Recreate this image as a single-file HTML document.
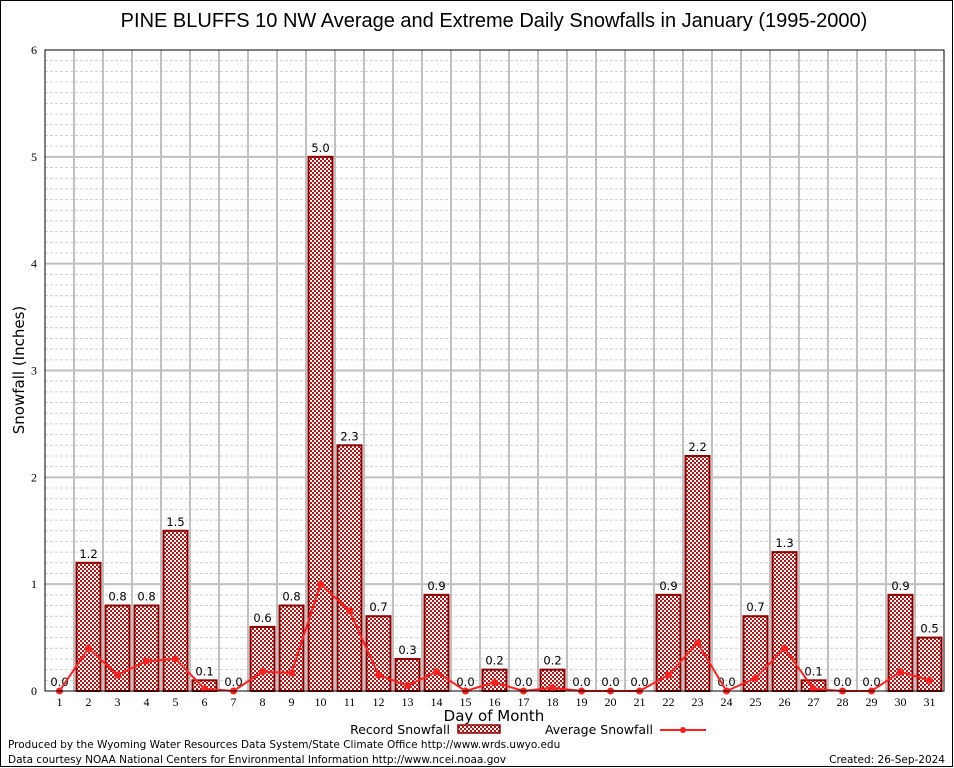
<!DOCTYPE html>
<html><head><meta charset="utf-8"><style>
body{margin:0;background:#fff;font-family:"DejaVu Sans",sans-serif}
svg{display:block}
</style></head><body>
<svg id="c" width="954" height="768" xmlns="http://www.w3.org/2000/svg">
<defs><pattern id="chk" width="4" height="4" patternUnits="userSpaceOnUse">
<rect width="4" height="4" fill="#fff"/><rect width="2" height="2" fill="#c01010"/><rect x="2" y="2" width="2" height="2" fill="#c01010"/></pattern></defs>
<rect x="0.5" y="0.5" width="952" height="766" fill="#fff" stroke="#000"/>
<text x="494" y="27" font-size="20" font-family="Liberation Sans" text-anchor="middle">PINE BLUFFS 10 NW Average and Extreme Daily Snowfalls in January (1995-2000)</text>
<g id="grid"></g><g id="bars"></g><g id="line"></g><g id="axes"></g>
<text transform="translate(24,370) rotate(-90)" font-size="15" text-anchor="middle">Snowfall (Inches)</text>
<text x="494" y="721" font-size="15" text-anchor="middle">Day of Month</text>
<g><text x="450" y="734" font-size="12.5" text-anchor="end">Record Snowfall</text><rect x="458" y="725" width="42" height="8" fill="url(#chk)" stroke="#8b0000" stroke-width="1.5"/></g>
<g><text x="653" y="734" font-size="12.5" text-anchor="end">Average Snowfall</text><line x1="660" y1="730" x2="706" y2="730" stroke="#ff2020" stroke-width="2"/><circle cx="683" cy="730" r="3" fill="#ff2020"/></g>
<text x="8" y="748" font-size="10.5">Produced by the Wyoming Water Resources Data System/State Climate Office http://www.wrds.uwyo.edu</text>
<text x="8" y="763" font-size="10.5">Data courtesy NOAA National Centers for Environmental Information http://www.ncei.noaa.gov</text>
<text x="945" y="763" font-size="10.5" text-anchor="end">Created:  26-Sep-2024</text>
</svg>
<script>
const days=[1,2,3,4,5,6,7,8,9,10,11,12,13,14,15,16,17,18,19,20,21,22,23,24,25,26,27,28,29,30,31];
const records=[0,1.2,0.8,0.8,1.5,0.1,0,0.6,0.8,5.0,2.3,0.7,0.3,0.9,0,0.2,0,0.2,0,0,0,0.9,2.2,0,0.7,1.3,0.1,0,0,0.9,0.5];
const averages=[0,0.4,0.15,0.28,0.3,0.02,0,0.18,0.17,1.0,0.75,0.15,0.05,0.18,0,0.08,0,0.03,0,0,0,0.15,0.45,0,0.12,0.4,0.02,0,0,0.18,0.1];
const yTicks=[0,1,2,3,4,5,6];
const NS='http://www.w3.org/2000/svg';
const L=45,R=944,T=50,B=691;
const x=d=>L+(d-0.5)*(R-L)/31;
const y=v=>B-v*(B-T)/6;
function mk(tag,at,parent,txt){const e=document.createElementNS(NS,tag);for(const k in at)e.setAttribute(k,at[k]);if(txt!==undefined)e.textContent=txt;document.getElementById(parent).appendChild(e);return e;}
for(let i=1;i<60;i++){if(i%10===0)continue;
const g=mk('line',{x1:L,x2:R,y1:y(i/10),y2:y(i/10),stroke:'#d0d0d0','stroke-dasharray':'3,2'},'grid');

}
for(let d=1;d<31;d++){const g=mk('line',{x1:x(d+0.5),x2:x(d+0.5),y1:T,y2:B,stroke:'#c0c0c0','stroke-width':2},'grid');

}
yTicks.forEach(t=>{if(t>0&&t<6){const g=mk('line',{x1:L,x2:R,y1:y(t),y2:y(t),stroke:'#c0c0c0','stroke-width':2},'grid');

}
const tx=mk('text',{x:L-8,y:y(t)+4,'font-size':12,'text-anchor':'end','font-family':'Liberation Serif'},'axes',String(t));

});
const bw=24;
days.forEach((d,i)=>{const v=records[i];
if(v>0){const r=mk('rect',{x:x(d)-bw/2,y:y(v),width:bw,height:y(0)-y(v),fill:'url(#chk)',stroke:'#8b0000','stroke-width':2},'bars');

}
const lb=mk('text',{x:x(d),y:y(v)-5,'font-size':11.5,'text-anchor':'middle'},'bars',v.toFixed(1));


const tl=mk('text',{x:x(d),y:B+15,'font-size':12,'text-anchor':'middle','font-family':'Liberation Serif'},'axes',String(d));

});
const pl=mk('polyline',{points:days.map((d,i)=>x(d)+','+y(averages[i])).join(' '),fill:'none',stroke:'#ff2020','stroke-width':2},'line');


days.forEach((d,i)=>{const c=mk('circle',{cx:x(d),cy:y(averages[i]),r:3.5,fill:'#ff2020'},'line');

});
const fr=mk('rect',{x:L,y:T,width:R-L,height:B-T,fill:'none',stroke:'#000','stroke-width':1},'axes');


</script>
</body></html>
